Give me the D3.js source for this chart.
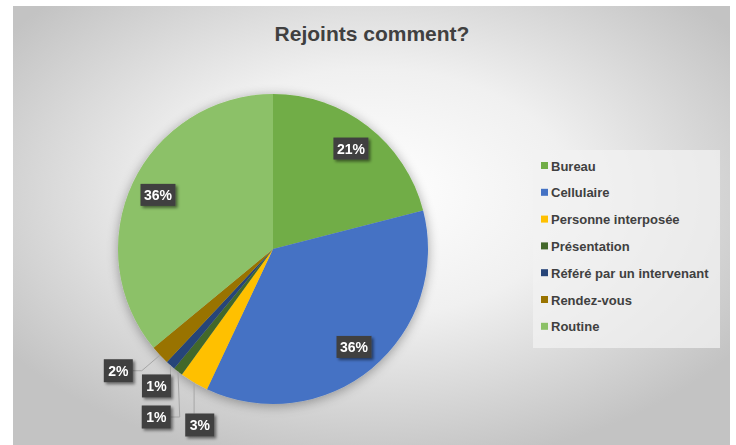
<!DOCTYPE html>
<html>
<head>
<meta charset="utf-8">
<script src="https://cdn.jsdelivr.net/npm/d3@7"></script>
<style>
  body { margin: 0; background: #fff; }
  svg { display: block; }
</style>
</head>
<body>
<div class="chart"></div>
<script>
var categories = ["Bureau", "Cellulaire", "Personne interposée", "Présentation",
  "Référé par un intervenant", "Rendez-vous", "Routine"];
var percents = [21, 36, 3, 1, 1, 2, 36];
var colors = ["#71ad47", "#4472c4", "#ffc000", "#43682b", "#264478", "#997300", "#8cc167"];

var svgWidth = 736;
var svgHeight = 445;

var svg = d3.select(".chart")
  .append("svg")
  .attr("width", svgWidth)
  .attr("height", svgHeight);

var defs = svg.append("defs");

var grad = defs.append("radialGradient")
  .attr("id", "bg")
  .attr("cx", "50%").attr("cy", "42%").attr("r", "62%");
grad.append("stop").attr("offset", "0%").attr("stop-color", "#ffffff");
grad.append("stop").attr("offset", "45%").attr("stop-color", "#f0f0f0");
grad.append("stop").attr("offset", "100%").attr("stop-color", "#c3c3c3");

var pieShadow = defs.append("filter").attr("id", "pieShadow")
  .attr("x", "-20%").attr("y", "-20%").attr("width", "140%").attr("height", "140%");
pieShadow.append("feGaussianBlur").attr("in", "SourceAlpha").attr("stdDeviation", 6);
pieShadow.append("feOffset").attr("dx", 0).attr("dy", 2).attr("result", "b");
pieShadow.append("feComponentTransfer").append("feFuncA").attr("type", "linear").attr("slope", 0.35);
var m1 = pieShadow.append("feMerge");
m1.append("feMergeNode");
m1.append("feMergeNode").attr("in", "SourceGraphic");

var boxShadow = defs.append("filter").attr("id", "boxShadow")
  .attr("x", "-30%").attr("y", "-30%").attr("width", "170%").attr("height", "170%");
boxShadow.append("feGaussianBlur").attr("in", "SourceAlpha").attr("stdDeviation", 1.5);
boxShadow.append("feOffset").attr("dx", 2).attr("dy", 2);
boxShadow.append("feComponentTransfer").append("feFuncA").attr("type", "linear").attr("slope", 0.5);
var m2 = boxShadow.append("feMerge");
m2.append("feMergeNode");
m2.append("feMergeNode").attr("in", "SourceGraphic");

// chart area
svg.append("rect")
  .attr("x", 13).attr("y", 6)
  .attr("width", 717).attr("height", 445)
  .attr("fill", "url(#bg)");

svg.append("text")
  .attr("x", 372)
  .attr("y", 41)
  .attr("text-anchor", "middle")
  .attr("font-family", "'Liberation Sans', Arial, sans-serif")
  .attr("font-weight", "bold")
  .attr("font-size", "21px")
  .attr("fill", "#404040")
  .text("Rejoints comment?");

// pie
var cx = 273, cy = 249, radius = 155;
var data = categories.map(function(c, i) {
  return { name: c, value: percents[i], color: colors[i] };
});

var pie = d3.pie().sort(null).value(d => d.value);
var arcs = pie(data);
var arc = d3.arc().innerRadius(0).outerRadius(radius);
var labelArc = d3.arc().innerRadius(radius * 0.82).outerRadius(radius * 0.82);

var pieGroup = svg.append("g")
  .attr("transform", `translate(${cx}, ${cy})`);

pieGroup.append("g")
  .attr("filter", "url(#pieShadow)")
  .selectAll("path")
  .data(arcs)
  .enter()
  .append("path")
  .attr("d", arc)
  .attr("fill", d => d.data.color);

// outside label placement for small slices: [radius factor, angle shift in degrees]
var outside = { 2: [1.23, -8], 3: [1.32, -3], 4: [1.16, -1], 5: [1.27, 5] };

function polar(r, a) {
  return [r * Math.sin(a), -r * Math.cos(a)];
}

arcs.forEach(function(d, i) {
  var mid = (d.startAngle + d.endAngle) / 2;
  var pos, bw, bh = 22;
  var txt = d.data.value + "%";
  bw = txt.length > 2 ? 35 : 29;
  if (outside[i]) {
    pos = polar(radius * outside[i][0], mid + outside[i][1] * Math.PI / 180);
    bw = 29; bh = 23;
  } else {
    pos = labelArc.centroid(d);
  }
  var bx = pos[0] - bw / 2, by = pos[1] - bh / 2;

  if (outside[i]) {
    var edge = polar(radius, mid);
    var pts;
    if (edge[0] >= bx && edge[0] <= bx + bw) {
      pts = [[edge[0], by], edge];
    } else {
      var side = edge[0] > bx + bw ? bx + bw : bx;
      var dir = edge[0] > bx + bw ? 1 : -1;
      pts = [[side, pos[1]], [side + dir * 9, pos[1]], edge];
    }
    pieGroup.append("path")
      .attr("d", d3.line()(pts))
      .attr("fill", "none")
      .attr("stroke", "#a6a6a6")
      .attr("stroke-width", 1);
  }

  var lg = pieGroup.append("g").attr("filter", "url(#boxShadow)");
  lg.append("rect")
    .attr("x", bx).attr("y", by)
    .attr("width", bw).attr("height", bh)
    .attr("fill", "#404040");
  lg.append("text")
    .attr("x", pos[0])
    .attr("y", pos[1] + 5)
    .attr("text-anchor", "middle")
    .attr("font-family", "'Liberation Sans', Arial, sans-serif")
    .attr("font-weight", "bold")
    .attr("font-size", "14px")
    .attr("fill", "#ffffff")
    .text(txt);
});

// legend
var legend = svg.append("g").attr("transform", "translate(533, 150)");
legend.append("rect")
  .attr("width", 187).attr("height", 198)
  .attr("fill", "#f2f2f2")
  .attr("opacity", 0.75);

var items = legend.selectAll(".item")
  .data(data)
  .enter()
  .append("g")
  .attr("class", "item")
  .attr("transform", (d, i) => `translate(8, ${16 + i * 26.8})`);

items.append("rect")
  .attr("x", 0).attr("y", -4)
  .attr("width", 7).attr("height", 7)
  .attr("fill", d => d.color);

items.append("text")
  .attr("x", 10)
  .attr("y", 4.5)
  .attr("font-family", "'Liberation Sans', Arial, sans-serif")
  .attr("font-weight", "bold")
  .attr("font-size", "13px")
  .attr("fill", "#404040")
  .text(d => d.name);
</script>
</body>
</html>
